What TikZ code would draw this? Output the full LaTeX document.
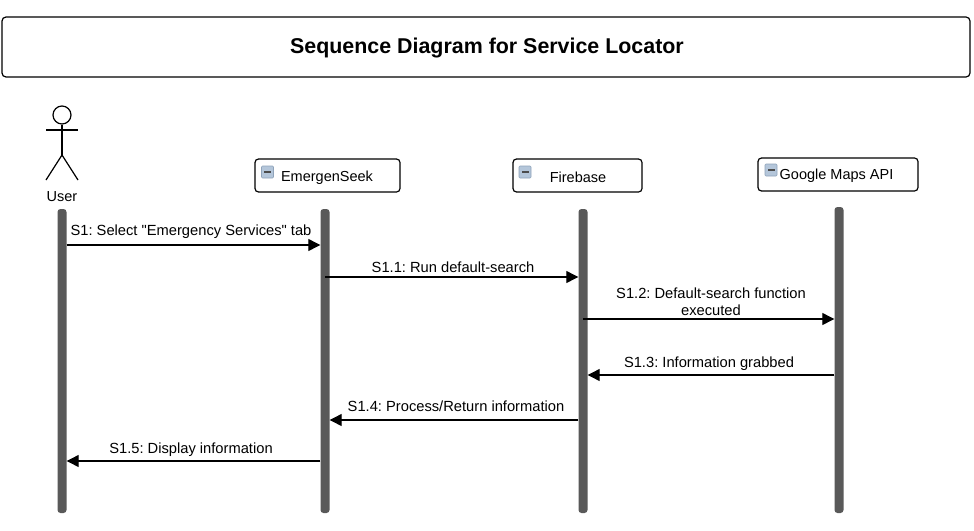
\documentclass[tikz,border=0pt]{standalone}
\usepackage{fontspec}
\setmainfont{Liberation Sans}
\newfontfamily\plainfam{Liberation Sans}
\usetikzlibrary{arrows.meta}
\definecolor{lifegray}{HTML}{595959}
\definecolor{iconfill}{HTML}{B4C6DA}
\definecolor{iconedge}{HTML}{8FA3BA}
\tikzset{
  x=1pt,y=-1pt,
  titlebox/.style={draw=black,line width=1.2pt,rounded corners=4pt,minimum width=968pt,minimum height=60pt,inner sep=0pt},
  titletext/.style={inner sep=0pt,font=\frenchspacing\fontsize{21.4}{25}\selectfont\bfseries},
  objbox/.style={draw=black,line width=1.2pt,rounded corners=3.5pt,inner sep=0pt},
  lifeline/.style={fill=lifegray,rounded corners=3pt,minimum width=9pt,inner sep=0pt},
  msgtext/.style={inner sep=0pt,font=\frenchspacing\fontsize{14.7}{17}\selectfont,align=center},
  objtext/.style={inner sep=0pt,font=\frenchspacing\fontsize{14.5}{16}\selectfont},
  msg/.style={draw=black,line width=1.2pt,-{Triangle[length=12pt,width=12pt]}},
  icon/.style={fill=iconfill,draw=iconedge,line width=0.6pt,rounded corners=1pt,minimum size=12pt,inner sep=0pt},
  iconbar/.style={fill=black!70,minimum width=7pt,minimum height=1.6pt,inner sep=0pt},
  stick/.style={draw=black,line width=1.2pt}
}
\begin{document}
\begin{tikzpicture}
\useasboundingbox (0,0) rectangle (974,530);
\fill[white] (0,0) rectangle (974,530);
\node[titlebox] (title) at (486,47) {};
\node[titletext] (titleT) at (487,48) {Sequence Diagram for Service Locator};

% actor
\node[circle,draw=black,line width=1.2pt,minimum size=18pt,inner sep=0pt] (head) at (62,115) {};
\coordinate (hip) at (62,155);
\coordinate (armL) at (46,130);
\coordinate (armR) at (78,130);
\coordinate (legL) at (46,180);
\coordinate (legR) at (78,180);
\draw[stick] (head.south) -- (hip);
\draw[stick] (armL) -- (armR);
\draw[stick] (legL) -- (hip) -- (legR);
\node[objtext] (user) at (62,197) {User};

% object boxes
\node[objbox,minimum width=145pt,minimum height=33pt] (emerg) at (327.5,175.5) {};
\node[objbox,minimum width=129pt,minimum height=33pt] (fire) at (577.5,175.5) {};
\node[objbox,minimum width=160pt,minimum height=33pt] (gmaps) at (838,174.5) {};
\node[objtext] (emergT) at (327,177.5) {EmergenSeek};
\node[objtext] (fireT) at (578,177) {Firebase};
\node[objtext] (gmapsT) at (836.5,176) {Google Maps API};
\node[icon] (ic1) at (267.5,172) {};
\node[iconbar] (ib1) at (ic1) {};
\node[icon] (ic2) at (525,172) {};
\node[iconbar] (ib2) at (ic2) {};
\node[icon] (ic3) at (771,170) {};
\node[iconbar] (ib3) at (ic3) {};

% lifelines
\node[lifeline,minimum height=304pt] (l1) at (62,361) {};
\node[lifeline,minimum height=304pt] (l2) at (325,361) {};
\node[lifeline,minimum height=304pt] (l3) at (583,361) {};
\node[lifeline,minimum height=306pt] (l4) at (839,360) {};

% messages
\draw[msg] (l1.east |- 0,245) -- (l2.west |- 0,245);
\draw[msg] (l2.center |- 0,277) -- (l3.west |- 0,277);
\draw[msg] (l3.center |- 0,319) -- (l4.west |- 0,319);
\draw[msg] (l4.west |- 0,375) -- (l3.east |- 0,375);
\draw[msg] (l3.west |- 0,420) -- (l2.east |- 0,420);
\draw[msg] (l2.west |- 0,461) -- (l1.east |- 0,461);

% labels
\node[msgtext] (m1) at (191,232) {S1: Select {\plainfam"}Emergency Services{\plainfam"} tab};
\node[msgtext] (m2) at (453,267) {S1.1: Run default-search};
\node[msgtext] (m3) at (711,301.5) {S1.2: Default-search function\\executed};
\node[msgtext] (m4) at (709,363.5) {S1.3: Information grabbed};
\node[msgtext] (m5) at (456,406) {S1.4: Process/Return information};
\node[msgtext] (m6) at (191,449.5) {S1.5: Display information};
\end{tikzpicture}
\end{document}
